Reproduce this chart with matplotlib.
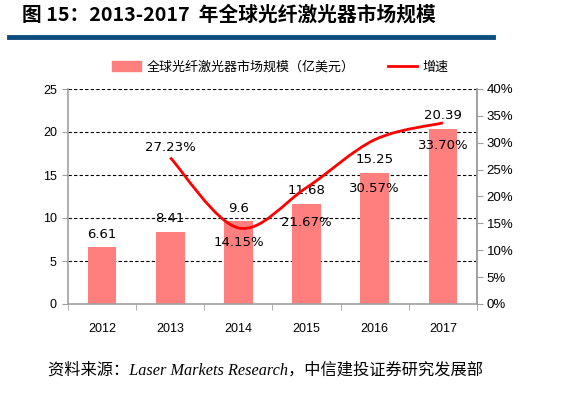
import numpy as np
import matplotlib.pyplot as plt
from matplotlib.path import Path
from matplotlib.patches import PathPatch, Rectangle
from matplotlib.lines import Line2D

plt.rcParams['font.family'] = ['Liberation Sans', 'Noto Sans CJK SC']

years = ['2012', '2013', '2014', '2015', '2016', '2017']
market = [6.61, 8.41, 9.6, 11.68, 15.25, 20.39]
growth = [None, 27.23, 14.15, 21.67, 30.57, 33.70]
bar_name = '全球光纤激光器市场规模（亿美元）'
line_name = '增速'

bar_color = '#FF7F7F'
grey = '#A0A0A0'

fig = plt.figure(figsize=(5.72, 3.98), dpi=100)
ax = fig.add_axes([68 / 572, 1 - 304 / 398, 409 / 572, 215 / 398])
x = np.arange(len(years))
ax.bar(x, market, width=0.42, color=bar_color, zorder=2)
ax.set_xlim(-0.5, len(years) - 0.5)
ax.set_ylim(0, 25)
ax.set_yticks(range(0, 26, 5))
ax.set_xticks(x)
ax.set_xticklabels(years)
ax.set_xticks(np.arange(-0.5, len(years), 1), minor=True)
ax.tick_params(axis='x', which='major', length=0, pad=14, labelsize=9)
ax.tick_params(axis='x', which='minor', length=4, color=grey)
ax.tick_params(axis='y', length=4, color=grey, labelsize=9, pad=4)
for yv in range(5, 26, 5):
    ax.axhline(yv, color='black', lw=0.8, ls=(0, (3, 2)), zorder=1)
ax.spines['top'].set_visible(False)
for s in ['left', 'bottom', 'right']:
    ax.spines[s].set_color(grey)
    ax.spines[s].set_linewidth(1.2)

for i, v in enumerate(market):
    ax.text(i, v + 1.5, f'{v:g}', ha='center', va='center', fontsize=9.5,
            family=['DejaVu Sans'])

ax2 = ax.twinx()
ax2.set_ylim(0, 40)
ax2.set_yticks(range(0, 41, 5))
ax2.set_yticklabels([f'{t}%' for t in range(0, 41, 5)])
ax2.tick_params(axis='y', length=4, color=grey, labelsize=9.5, pad=3)
for s in ['top', 'left', 'bottom']:
    ax2.spines[s].set_visible(False)
ax2.spines['right'].set_color(grey)
ax2.spines['right'].set_linewidth(1.2)

# smoothed line (Catmull-Rom through the growth points)
gx = [i for i, g in enumerate(growth) if g is not None]
gy = [g for g in growth if g is not None]
pts = np.column_stack([gx, gy]).astype(float)
ext = np.vstack([pts[0], pts, pts[-1]])
verts = [tuple(pts[0])]
codes = [Path.MOVETO]
for k in range(len(pts) - 1):
    p0, p1, p2, p3 = ext[k], ext[k + 1], ext[k + 2], ext[k + 3]
    c1 = p1 + (p2 - p0) / 6
    c2 = p2 - (p3 - p1) / 6
    verts += [tuple(c1), tuple(c2), tuple(p2)]
    codes += [Path.CURVE4] * 3
ax2.add_patch(PathPatch(Path(verts, codes), fill=False, edgecolor='#FF0000', lw=2, zorder=3))

pct_off = {1: 1.8, 2: -2.8, 3: -6.6, 4: -9.0, 5: -4.3}
for i, g in enumerate(growth):
    if g is None:
        continue
    ax2.text(i, g + pct_off[i], f'{g:.2f}%', ha='center', va='center', fontsize=9.5,
             family=['DejaVu Sans'])

# legend
handles = [Rectangle((0, 0), 1, 1, color=bar_color), Line2D([], [], color='#FF0000', lw=2)]
fig.legend(handles, [bar_name, line_name], loc='center', bbox_to_anchor=(0.49, 1 - 67 / 398),
           ncol=2, frameon=False, handlelength=2.2, handleheight=0.9,
           columnspacing=2.6, handletextpad=0.4, prop={'family': ['Noto Sans CJK SC'], 'size': 9.4})

# title
fig.text(22 / 572, 1 - 15 / 398, '图 15：2013-2017  年全球光纤激光器市场规模', fontsize=14.2,
         fontweight='bold', va='center', ha='left', family=['Noto Sans CJK SC'])
fig.add_artist(Line2D([9 / 572, 493 / 572], [1 - 37 / 398, 1 - 37 / 398], color='#0C4C7E', lw=3.5))

fig.text(48 / 572, 1 - 371 / 398, '资料来源：Laser Markets Research，中信建投证券研究发展部',
         fontsize=11.7, style='italic', va='center', ha='left',
         family=['Liberation Serif', 'Noto Sans CJK SC'])

fig.savefig('out.png', dpi=100)
